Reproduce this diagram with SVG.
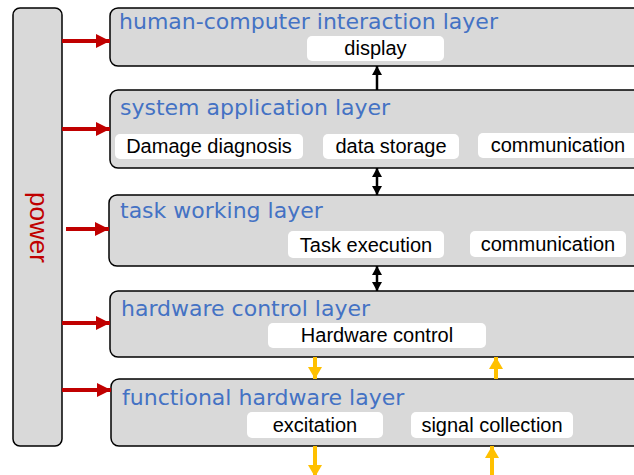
<svg xmlns="http://www.w3.org/2000/svg" width="634" height="475" viewBox="0 0 634 475">
<style>
.layer{fill:#d9d9d9;stroke:#000;stroke-width:1.5}
.box{fill:#fff}
.title{font-family:"DejaVu Sans",Verdana,sans-serif;font-size:22px;fill:#4472c4}
.lbl{font-family:"Liberation Sans",Arial,sans-serif;font-size:20px;fill:#000;text-anchor:middle}
.red{stroke:#c00000;stroke-width:4;fill:none;marker-end:url(#mr)}
.blk{stroke:#000;stroke-width:2.5;fill:none}
.yel{stroke:#ffc000;stroke-width:4;fill:none;marker-end:url(#my)}
</style>
<defs>
<marker id="mr" markerUnits="userSpaceOnUse" markerWidth="14" markerHeight="14" refX="14" refY="7" orient="auto"><path d="M0,0 L14,7 L0,14 z" fill="#c00000"/></marker>
<marker id="my" markerUnits="userSpaceOnUse" markerWidth="12" markerHeight="14" refX="12" refY="7" orient="auto"><path d="M0,0 L12,7 L0,14 z" fill="#ffc000"/></marker>
<marker id="mb" markerUnits="userSpaceOnUse" markerWidth="9" markerHeight="10" refX="9" refY="5" orient="auto-start-reverse"><path d="M0,0 L9,5 L0,10 z" fill="#000"/></marker>
</defs>
<rect width="634" height="475" fill="#fff"/>
<g id="power">
<rect x="13" y="8" width="49" height="438" rx="7" class="layer"/>
<text transform="translate(29.5,227.5) rotate(90)" font-family="Liberation Sans,Arial,sans-serif" font-size="26" fill="#c00000" text-anchor="middle">power</text>
</g>
<g id="hci">
<rect x="110" y="8" width="540" height="58" rx="8" class="layer"/>
<text x="119" y="29" class="title">human-computer interaction layer</text>
<rect x="307" y="36" width="137" height="25" rx="5" class="box"/>
<text x="375.5" y="55" class="lbl">display</text>
</g>
<g id="app">
<rect x="110" y="90" width="540" height="78" rx="8" class="layer"/>
<text x="120" y="115" class="title">system application layer</text>
<rect x="115" y="134" width="188" height="25" rx="5" class="box"/>
<text x="209" y="153" class="lbl">Damage diagnosis</text>
<rect x="323" y="134" width="136" height="25" rx="5" class="box"/>
<text x="391" y="153" class="lbl">data storage</text>
<rect x="478" y="133" width="160" height="25" rx="5" class="box"/>
<text x="558" y="152" class="lbl">communication</text>
</g>
<g id="task">
<rect x="109" y="195" width="541" height="71" rx="8" class="layer"/>
<text x="120" y="218" class="title">task working layer</text>
<rect x="288" y="231" width="156" height="27" rx="5" class="box"/>
<text x="366" y="252" class="lbl">Task execution</text>
<rect x="470" y="231" width="156" height="26" rx="5" class="box"/>
<text x="548" y="251" class="lbl">communication</text>
</g>
<g id="hwctrl">
<rect x="110" y="291" width="540" height="66" rx="8" class="layer"/>
<text x="121" y="316" class="title">hardware control layer</text>
<rect x="268" y="323" width="218" height="25" rx="5" class="box"/>
<text x="377" y="342" class="lbl">Hardware control</text>
</g>
<g id="func">
<rect x="111" y="379" width="539" height="67" rx="8" class="layer"/>
<text x="122" y="405" class="title">functional hardware layer</text>
<rect x="247" y="412" width="136" height="26" rx="5" class="box"/>
<text x="315" y="432" class="lbl">excitation</text>
<rect x="411" y="412" width="162" height="26" rx="5" class="box"/>
<text x="492" y="432" class="lbl">signal collection</text>
</g>
<g id="connectors">
<line x1="62" y1="41" x2="110" y2="41" class="red"/>
<line x1="62" y1="129" x2="110" y2="129" class="red"/>
<line x1="66" y1="229" x2="109" y2="229" class="red"/>
<line x1="62" y1="323" x2="110" y2="323" class="red"/>
<line x1="62" y1="390" x2="111" y2="390" class="red"/>
<line x1="377" y1="90" x2="377" y2="66" class="blk" marker-end="url(#mb)"/>
<line x1="377" y1="168" x2="377" y2="195" class="blk" marker-start="url(#mb)" marker-end="url(#mb)"/>
<line x1="377" y1="266" x2="377" y2="291" class="blk" marker-start="url(#mb)" marker-end="url(#mb)"/>
<line x1="315" y1="357" x2="315" y2="379" class="yel"/>
<line x1="496" y1="379" x2="496" y2="357" class="yel"/>
<line x1="315" y1="446" x2="315" y2="477" class="yel"/>
<line x1="492" y1="478" x2="492" y2="446" class="yel"/>
</g>
</svg>
